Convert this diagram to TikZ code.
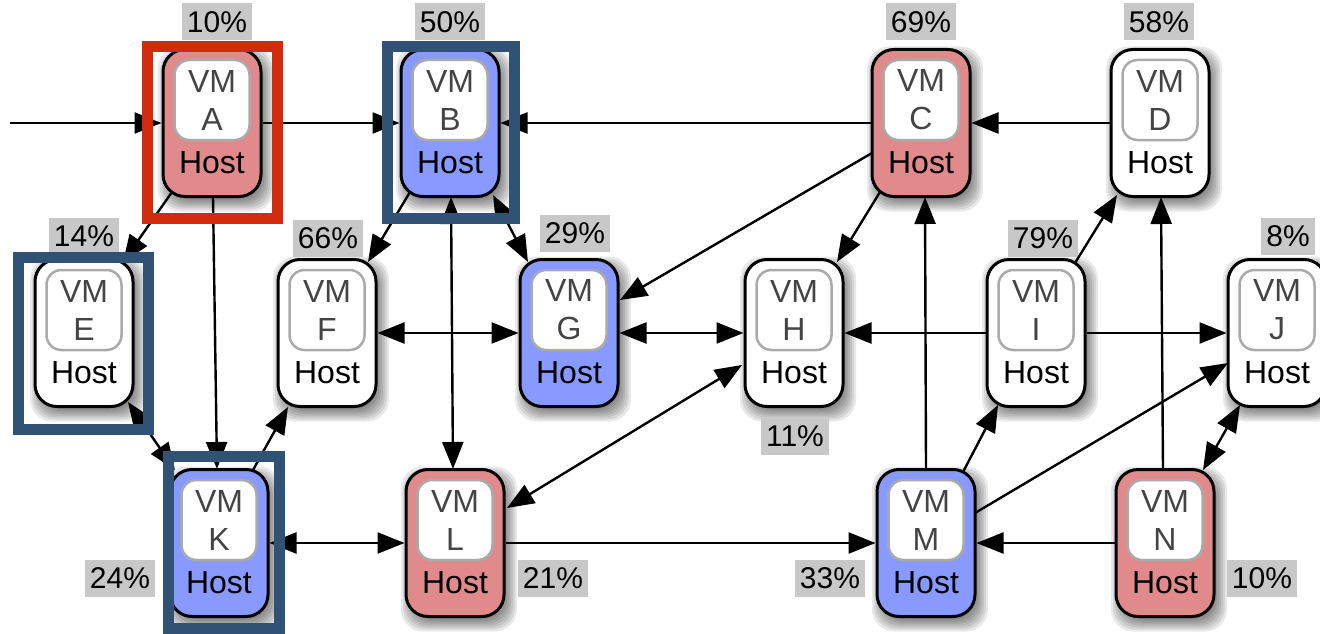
\documentclass[tikz,border=0pt]{standalone}
\usepackage{fontspec}
\setmainfont{Liberation Sans}
\usetikzlibrary{arrows.meta,calc}
\definecolor{hostred}{RGB}{224,138,140}
\definecolor{hostblue}{RGB}{136,153,255}
\definecolor{framered}{RGB}{210,42,12}
\definecolor{frameblue}{RGB}{48,82,117}
\definecolor{vmgray}{RGB}{170,170,170}
\definecolor{vmtext}{RGB}{68,68,68}
\definecolor{pctgray}{RGB}{200,200,200}

\tikzset{
  host/.style={draw=black, line width=3pt, rounded corners=22pt,
    minimum width=98pt, minimum height=147pt, inner sep=0pt},
  shadowlayer/.style={fill=black, opacity=0.085, rounded corners=22pt},
  vmbox/.style={draw=vmgray, line width=2.5pt, fill=white, rounded corners=15pt,
    minimum width=75pt, minimum height=80pt, inner sep=0pt, align=center,
    text=vmtext, font=\fontsize{32}{38}\selectfont},
  hosttext/.style={font=\fontsize{32}{38}\selectfont, inner sep=0pt},
  pct/.style={fill=pctgray, font=\fontsize{30}{36}\selectfont,
    inner xsep=5pt, inner ysep=0pt, minimum height=37pt},
  tip/.tip={Triangle[length=27pt,width=21pt]},
  link/.style={line width=2.4pt, -tip},
  link2/.style={line width=2.4pt, tip-tip},
  hilite/.style={line width=11pt},
}

% host box with its VM inside and a soft shadow below right
\newcommand\hostnode[4]{%
  \path #2 coordinate (#1-c);
  \foreach \sh in {-3,-1,...,9} {
    \fill[shadowlayer]
      ($(#1-c)+(-45-\sh,-67.5-\sh)$) rectangle ($(#1-c)+(53+\sh,79.5+\sh)$);
  }
  \node[host, fill=#4] (#1) at (#1-c) {};
  \node[vmbox] (#1-vm) at ([yshift=23pt]#1.center) {VM\\#3};
  \node[hosttext] (#1-txt) at ([yshift=-40pt]#1.center) {Host};
}

\begin{document}
\begin{tikzpicture}[x=1pt, y=-1pt]
\useasboundingbox (0,0) rectangle (1320,634);

% hosts
\hostnode{A}{(212,123)}{A}{hostred}
\hostnode{B}{(450,123)}{B}{hostblue}
\hostnode{C}{(921,123)}{C}{hostred}
\hostnode{D}{(1160,123)}{D}{white}
\hostnode{E}{(84,333)}{E}{white}
\hostnode{F}{(327,333)}{F}{white}
\hostnode{G}{(569,333)}{G}{hostblue}
\hostnode{H}{(794,333)}{H}{white}
\hostnode{I}{(1036,333)}{I}{white}
\hostnode{J}{(1277,333)}{J}{white}
\hostnode{K}{(219,543)}{K}{hostblue}
\hostnode{L}{(455,543)}{L}{hostred}
\hostnode{M}{(926,543)}{M}{hostblue}
\hostnode{N}{(1165,543)}{N}{hostred}

% load figures
\node[pct] (pA) at (217,22) {10\%};
\node[pct] (pB) at (450,22) {50\%};
\node[pct] (pC) at (921,22) {69\%};
\node[pct] (pD) at (1159,22) {58\%};
\node[pct] (pE) at (84,236) {14\%};
\node[pct] (pF) at (328,238) {66\%};
\node[pct] (pG) at (575,233) {29\%};
\node[pct] (pH) at (795,436) {11\%};
\node[pct] (pI) at (1043,238) {79\%};
\node[pct] (pJ) at (1288,236) {8\%};
\node[pct] (pK) at (120,578) {24\%};
\node[pct] (pL) at (553,578) {21\%};
\node[pct] (pM) at (830,578) {33\%};
\node[pct] (pN) at (1262,578) {10\%};

% migrations
\coordinate (src) at (10,123);
\draw[link] (src) -- (A.west);
\draw[link] (A.east) -- (B.west);
\draw[link] (C.west) -- (B.east);
\draw[link] (D.west) -- (C.east);
\draw[link] ($(A)+(-40,69)$) -- ($(E)+(39,-71)$);
\draw[link] ($(A)+(1,74)$) -- ($(K)+(-2,-74)$);
\draw[link] ($(B)+(-40,69)$) -- ($(F)+(41,-71)$);
\draw[link2] ($(B)+(43,72)$) -- ($(G)+(-41,-71)$);
\draw[link2] ($(B)+(1,74)$) -- ($(L)+(-2,-74)$);
\draw[link2] (F.east) -- (G.west);
\draw[link2] (G.east) -- (H.west);
\draw[link] ($(C)+(-49,30)$) -- ($(G)+(51,-33)$);
\draw[link] ($(C)+(-41,69)$) -- ($(H)+(43,-71)$);
\draw[link] (I.west) -- (H.east);
\draw[link] (I.east) -- (J.west);
\draw[link] ($(I)+(39,-70)$) -- ($(D)+(-43,72)$);
\draw[link] ($(N)+(-2,-74)$) -- ($(D)+(1,74)$);
\draw[link] ($(M)+(0,-74)$) -- ($(C)+(4,74)$);
\draw[link] ($(M)+(37,-71)$) -- ($(I)+(-38,72)$);
\draw[link] ($(M)+(49,-30)$) -- ($(J)+(-49,30)$);
\draw[link2] ($(N)+(38,-73)$) -- ($(J)+(-37,72)$);
\draw[link] (N.west) -- (M.east);
\draw[link] (L.east) -- (M.west);
\draw[link2] (K.east) -- (L.west);
\draw[link] ($(K)+(34,-73)$) -- ($(F)+(-39,74)$);
\draw[link2] ($(E)+(44,69)$) -- ($(K)+(-44,-73)$);
\draw[link2] ($(H)+(-52,32)$) -- ($(L)+(52,-35)$);

% highlighted hosts
\draw[hilite, framered] (147.5,46.5) rectangle (277.5,218.5);
\draw[hilite, frameblue] (387.5,46.5) rectangle (514.5,218.5);
\draw[hilite, frameblue] (18.5,257.5) rectangle (148.5,429.5);
\draw[hilite, frameblue] (168.5,456.5) rectangle (279.5,628.5);
\end{tikzpicture}
\end{document}
